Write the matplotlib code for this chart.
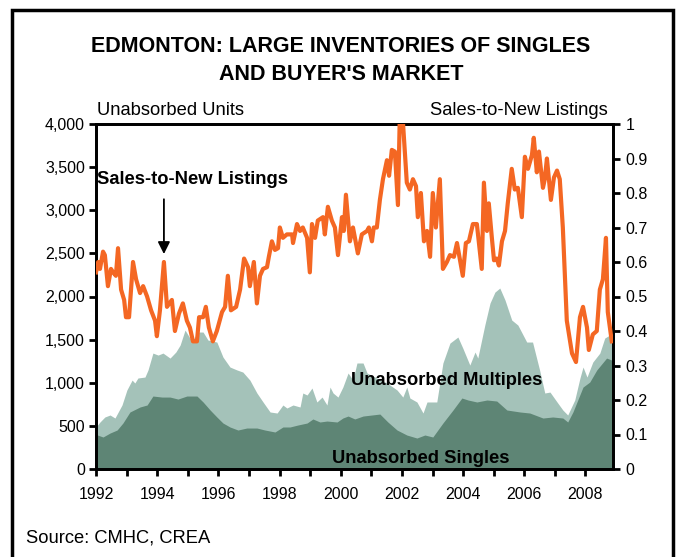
import matplotlib
matplotlib.use("Agg")
import matplotlib.pyplot as plt
from matplotlib.patches import Rectangle
import numpy as np

plt.rcParams['font.family'] = ['Liberation Sans', 'DejaVu Sans']

# ---- Data ----
stnl_dates = [1992.00, 1992.07, 1992.13, 1992.23, 1992.29, 1992.39, 1992.49, 1992.56, 1992.65, 1992.72,
              1992.82, 1992.92, 1992.98, 1993.08, 1993.21, 1993.31, 1993.44, 1993.54, 1993.67, 1993.80,
              1993.93, 1993.99, 1994.09, 1994.22, 1994.32, 1994.48, 1994.58, 1994.71, 1994.84, 1994.97,
              1995.07, 1995.17, 1995.30, 1995.37, 1995.50, 1995.59, 1995.69, 1995.82, 1995.95, 1996.12,
              1996.22, 1996.31, 1996.41, 1996.58, 1996.71, 1996.84, 1996.97, 1997.03, 1997.16, 1997.26,
              1997.36, 1997.46, 1997.59, 1997.65, 1997.75, 1997.85, 1997.95, 1998.01, 1998.11, 1998.24,
              1998.41, 1998.44, 1998.57, 1998.67, 1998.76, 1998.90, 1998.99, 1999.06, 1999.16, 1999.25,
              1999.42, 1999.48, 1999.58, 1999.71, 1999.81, 1999.91, 2000.04, 2000.10, 2000.17, 2000.30,
              2000.40, 2000.56, 2000.69, 2000.86, 2000.92, 2001.02, 2001.08, 2001.18, 2001.28, 2001.38,
              2001.51, 2001.58, 2001.67, 2001.77, 2001.87, 2001.93, 2002.03, 2002.16, 2002.26, 2002.36,
              2002.46, 2002.52, 2002.62, 2002.72, 2002.82, 2002.92, 2003.01, 2003.11, 2003.24, 2003.34,
              2003.47, 2003.57, 2003.70, 2003.80, 2003.90, 2003.99, 2004.09, 2004.19, 2004.32, 2004.45,
              2004.61, 2004.68, 2004.78, 2004.84, 2004.94, 2005.01, 2005.10, 2005.17, 2005.27, 2005.37,
              2005.46, 2005.59, 2005.69, 2005.79, 2005.92, 2006.02, 2006.12, 2006.25, 2006.31, 2006.41,
              2006.48, 2006.61, 2006.67, 2006.74, 2006.87, 2006.97, 2007.07, 2007.16, 2007.26, 2007.39,
              2007.56, 2007.69, 2007.82, 2007.92, 2008.05, 2008.11, 2008.24, 2008.37, 2008.47, 2008.57,
              2008.67, 2008.73, 2008.86]
stnl_values = [0.57, 0.60, 0.58, 0.63, 0.62, 0.53, 0.58, 0.57, 0.56, 0.64,
               0.52, 0.49, 0.44, 0.44, 0.60, 0.55, 0.51, 0.53, 0.50, 0.46,
               0.43, 0.385, 0.46, 0.60, 0.47, 0.49, 0.40, 0.45, 0.48, 0.43,
               0.41, 0.37, 0.37, 0.44, 0.44, 0.47, 0.41, 0.37, 0.40, 0.455,
               0.47, 0.56, 0.46, 0.47, 0.52, 0.61, 0.585, 0.53, 0.60, 0.48,
               0.56, 0.58, 0.585, 0.615, 0.66, 0.635, 0.64, 0.70, 0.67, 0.68,
               0.68, 0.655, 0.71, 0.69, 0.70, 0.67, 0.57, 0.71, 0.67, 0.72,
               0.73, 0.68, 0.76, 0.72, 0.70, 0.62, 0.73, 0.69, 0.795, 0.66,
               0.70, 0.625, 0.68, 0.69, 0.70, 0.66, 0.70, 0.70, 0.78, 0.84,
               0.895, 0.85, 0.925, 0.92, 0.765, 1.02, 1.01, 0.83, 0.81, 0.84,
               0.82, 0.73, 0.80, 0.66, 0.69, 0.615, 0.80, 0.70, 0.84, 0.58,
               0.60, 0.62, 0.615, 0.655, 0.605, 0.56, 0.655, 0.66, 0.71, 0.71,
               0.58, 0.83, 0.69, 0.77, 0.67, 0.605, 0.61, 0.59, 0.66, 0.69,
               0.77, 0.87, 0.81, 0.815, 0.73, 0.905, 0.87, 0.91, 0.96, 0.86,
               0.92, 0.815, 0.84, 0.90, 0.78, 0.845, 0.865, 0.84, 0.70, 0.43,
               0.335, 0.31, 0.44, 0.47, 0.41, 0.345, 0.39, 0.40, 0.52, 0.55,
               0.67, 0.455, 0.37]

singles_dates = [1992.00, 1992.23, 1992.46, 1992.69, 1992.88, 1993.11, 1993.44, 1993.67, 1993.86, 1994.16,
                 1994.42, 1994.68, 1994.97, 1995.30, 1995.50, 1995.73, 1995.95, 1996.15, 1996.38, 1996.64,
                 1996.93, 1997.26, 1997.52, 1997.85, 1998.11, 1998.34, 1998.60, 1998.90, 1999.09, 1999.32,
                 1999.55, 1999.88, 2000.07, 2000.24, 2000.46, 2000.73, 2001.28, 2001.54, 2001.84, 2002.16,
                 2002.49, 2002.75, 2003.01, 2003.34, 2003.67, 2003.96, 2004.16, 2004.45, 2004.78, 2005.10,
                 2005.43, 2005.86, 2006.18, 2006.61, 2006.93, 2007.26, 2007.42, 2007.59, 2007.92, 2008.14,
                 2008.37, 2008.69, 2008.86]
singles_units = [400, 371, 417, 452, 533, 661, 719, 742, 846, 834,
                 834, 811, 846, 846, 777, 684, 603, 533, 487, 452,
                 475, 475, 452, 429, 487, 487, 510, 533, 580, 545,
                 556, 545, 591, 614, 580, 614, 637, 545, 452, 394,
                 359, 394, 371, 533, 684, 823, 800, 777, 800, 788,
                 684, 661, 649, 591, 603, 591, 545, 661, 950, 1008,
                 1148, 1286, 1263]

total_dates = [1992.00, 1992.13, 1992.29, 1992.46, 1992.62, 1992.85, 1993.01, 1993.18, 1993.27, 1993.37,
               1993.60, 1993.70, 1993.86, 1994.03, 1994.19, 1994.42, 1994.61, 1994.75, 1994.91, 1995.07,
               1995.17, 1995.33, 1995.50, 1995.66, 1995.95, 1996.15, 1996.38, 1996.61, 1996.80, 1997.03,
               1997.26, 1997.46, 1997.69, 1997.92, 1998.11, 1998.24, 1998.44, 1998.67, 1998.76, 1998.90,
               1999.06, 1999.22, 1999.39, 1999.55, 1999.65, 1999.75, 1999.91, 2000.07, 2000.24, 2000.40,
               2000.53, 2000.73, 2000.86, 2001.18, 2001.51, 2001.84, 2002.03, 2002.16, 2002.26, 2002.49,
               2002.69, 2002.82, 2003.14, 2003.34, 2003.57, 2003.83, 2003.99, 2004.22, 2004.39, 2004.48,
               2004.71, 2004.88, 2005.04, 2005.20, 2005.37, 2005.59, 2005.79, 2006.08, 2006.27, 2006.50,
               2006.67, 2006.84, 2007.07, 2007.26, 2007.42, 2007.65, 2007.82, 2007.92, 2008.05, 2008.24,
               2008.47, 2008.63, 2008.79, 2008.86]
total_units = [487, 545, 603, 626, 591, 742, 916, 1031, 997, 1055,
               1066, 1148, 1344, 1321, 1344, 1286, 1356, 1437, 1611, 1518,
               1495, 1588, 1588, 1495, 1472, 1298, 1182, 1148, 1124, 1031,
               881, 777, 661, 649, 742, 707, 742, 719, 881, 858,
               939, 777, 834, 742, 950, 881, 834, 950, 1113, 1031,
               1229, 1229, 1113, 1055, 997, 916, 834, 950, 823, 777,
               649, 777, 777, 1229, 1460, 1530, 1402, 1205, 1356, 1286,
               1669, 1924, 2051, 2098, 1959, 1727, 1669, 1472, 1472, 1148,
               881, 892, 777, 684, 626, 800, 1055, 1182, 1066, 1240,
               1344, 1518, 1553, 1560]

year_ticks = list(range(1992, 2009, 2))
left_ticks = [0, 500, 1000, 1500, 2000, 2500, 3000, 3500, 4000]
right_ticks = [0, 0.1, 0.2, 0.3, 0.4, 0.5, 0.6, 0.7, 0.8, 0.9, 1]
right_labels = ['0', '0.1', '0.2', '0.3', '0.4', '0.5', '0.6', '0.7', '0.8', '0.9', '1']

# ---- Styling ----
DARK = '#5E8575'
LIGHT = '#A4C2B9'
ORANGE = '#F46723'
FS_TICK = 11.5
FS_LAB = 13.2

W, H = 682, 557
fig = plt.figure(figsize=(W / 100, H / 100), dpi=100)

# frame around figure
fig.patches.append(Rectangle((12 / W, -0.02), (673 - 12) / W, 1 - 10 / H + 0.02,
                             transform=fig.transFigure, fill=False, edgecolor='black',
                             linewidth=2.5, zorder=0))

ax = fig.add_axes([96 / W, 1 - 469 / H, (613 - 96) / W, (469 - 124) / H])
ax.fill_between(total_dates, 0, total_units, color=LIGHT, linewidth=0, zorder=1)
ax.fill_between(singles_dates, 0, singles_units, color=DARK, linewidth=0, zorder=2)
ax.set_xlim(1992, 2008.9)
ax.set_ylim(0, 4000)
ax.set_yticks(left_ticks)
ax.set_yticklabels([f'{v:,}' for v in left_ticks])
ax.set_xticks(year_ticks)
ax.set_xticks(list(range(1993, 2009, 2)), minor=True)
ax.set_xticklabels([str(y) for y in year_ticks])

ax2 = ax.twinx()
ax2.plot(stnl_dates, stnl_values, color=ORANGE, linewidth=3.0, solid_joinstyle='round', zorder=3)
ax2.set_ylim(0, 1)
ax2.set_yticks(right_ticks)
ax2.set_yticklabels(right_labels)
ax2.set_xlim(1992, 2008.9)

for a in (ax, ax2):
    for s in a.spines.values():
        s.set_linewidth(2)
        s.set_color('black')
ax.tick_params(axis='y', which='both', direction='out', length=5, width=2,
               labelsize=FS_TICK, pad=3)
ax.tick_params(axis='x', which='both', direction='out', length=5, width=2,
               labelsize=FS_TICK, pad=8)
ax2.tick_params(axis='y', direction='out', length=5, width=2, labelsize=FS_TICK, pad=4)

# axis titles
fig.text(97 / W, 1 - 110 / H, 'Unabsorbed Units', ha='left', va='center', fontsize=FS_LAB)
fig.text(608 / W, 1 - 110 / H, 'Sales-to-New Listings', ha='right', va='center', fontsize=FS_LAB)

# main title
fig.text(0.5, 1 - 47 / H, 'EDMONTON: LARGE INVENTORIES OF SINGLES', ha='center', va='center',
         fontsize=15.5, fontweight='bold')
fig.text(0.5, 1 - 74 / H, "AND BUYER'S MARKET", ha='center', va='center',
         fontsize=15.5, fontweight='bold')

# annotations
ax2.annotate('', xy=(1994.22, 0.615), xytext=(1994.22, 0.79),
             arrowprops=dict(arrowstyle='-|>', color='black', lw=1.3, mutation_scale=18))
ax2.text(1995.17, 0.838, 'Sales-to-New Listings', ha='center', va='center',
         fontsize=FS_LAB, fontweight='bold', zorder=5)
ax.text(2003.47, 1031, 'Unabsorbed Multiples', ha='center', va='center',
        fontsize=FS_LAB, fontweight='bold', zorder=5)
ax.text(2002.62, 127, 'Unabsorbed Singles', ha='center', va='center',
        fontsize=FS_LAB, fontweight='bold', zorder=5)

fig.text(26 / W, 1 - 538 / H, 'Source: CMHC, CREA', ha='left', va='center', fontsize=FS_LAB)

fig.savefig('out.png', dpi=100)
